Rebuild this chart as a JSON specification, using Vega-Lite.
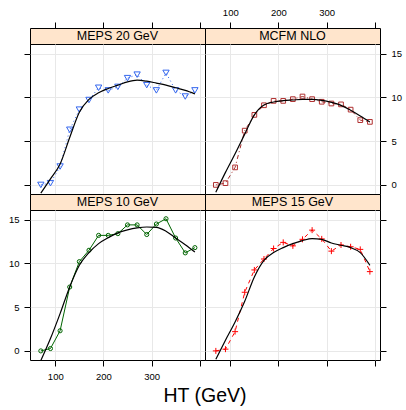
{
  "$schema": "https://vega.github.io/schema/vega-lite/v6.json",
  "padding": {"left": 7, "top": 6, "right": 5, "bottom": 0},
  "background": "white",
  "datasets": {
    "pts": [
      {"panel": "MEPS 20 GeV", "x": 70, "y": 0.0},
      {"panel": "MEPS 20 GeV", "x": 90, "y": 0.2},
      {"panel": "MEPS 20 GeV", "x": 110, "y": 2.1},
      {"panel": "MEPS 20 GeV", "x": 130, "y": 6.3},
      {"panel": "MEPS 20 GeV", "x": 150, "y": 8.6},
      {"panel": "MEPS 20 GeV", "x": 170, "y": 9.7},
      {"panel": "MEPS 20 GeV", "x": 190, "y": 11.1},
      {"panel": "MEPS 20 GeV", "x": 210, "y": 10.8},
      {"panel": "MEPS 20 GeV", "x": 230, "y": 11.2},
      {"panel": "MEPS 20 GeV", "x": 250, "y": 12.2},
      {"panel": "MEPS 20 GeV", "x": 270, "y": 12.6},
      {"panel": "MEPS 20 GeV", "x": 290, "y": 11.4},
      {"panel": "MEPS 20 GeV", "x": 310, "y": 10.8},
      {"panel": "MEPS 20 GeV", "x": 330, "y": 12.8},
      {"panel": "MEPS 20 GeV", "x": 350, "y": 10.8},
      {"panel": "MEPS 20 GeV", "x": 370, "y": 10.1},
      {"panel": "MEPS 20 GeV", "x": 390, "y": 10.8},
      {"panel": "MCFM NLO", "x": 70, "y": 0.0},
      {"panel": "MCFM NLO", "x": 90, "y": 0.2},
      {"panel": "MCFM NLO", "x": 110, "y": 2.0},
      {"panel": "MCFM NLO", "x": 130, "y": 6.2},
      {"panel": "MCFM NLO", "x": 150, "y": 8.0},
      {"panel": "MCFM NLO", "x": 170, "y": 9.1},
      {"panel": "MCFM NLO", "x": 190, "y": 9.6},
      {"panel": "MCFM NLO", "x": 210, "y": 9.6},
      {"panel": "MCFM NLO", "x": 230, "y": 9.8},
      {"panel": "MCFM NLO", "x": 250, "y": 10.1},
      {"panel": "MCFM NLO", "x": 270, "y": 9.8},
      {"panel": "MCFM NLO", "x": 290, "y": 9.5},
      {"panel": "MCFM NLO", "x": 310, "y": 9.3},
      {"panel": "MCFM NLO", "x": 330, "y": 9.2},
      {"panel": "MCFM NLO", "x": 350, "y": 8.6},
      {"panel": "MCFM NLO", "x": 370, "y": 7.4},
      {"panel": "MCFM NLO", "x": 390, "y": 7.2},
      {"panel": "MEPS 10 GeV", "x": 70, "y": 0.0},
      {"panel": "MEPS 10 GeV", "x": 90, "y": 0.27},
      {"panel": "MEPS 10 GeV", "x": 110, "y": 2.3},
      {"panel": "MEPS 10 GeV", "x": 130, "y": 7.3},
      {"panel": "MEPS 10 GeV", "x": 150, "y": 10.2},
      {"panel": "MEPS 10 GeV", "x": 170, "y": 11.5},
      {"panel": "MEPS 10 GeV", "x": 190, "y": 13.2},
      {"panel": "MEPS 10 GeV", "x": 210, "y": 13.2},
      {"panel": "MEPS 10 GeV", "x": 230, "y": 13.4},
      {"panel": "MEPS 10 GeV", "x": 250, "y": 14.4},
      {"panel": "MEPS 10 GeV", "x": 270, "y": 14.4},
      {"panel": "MEPS 10 GeV", "x": 290, "y": 13.3},
      {"panel": "MEPS 10 GeV", "x": 310, "y": 14.5},
      {"panel": "MEPS 10 GeV", "x": 330, "y": 15.1},
      {"panel": "MEPS 10 GeV", "x": 350, "y": 12.9},
      {"panel": "MEPS 10 GeV", "x": 370, "y": 11.2},
      {"panel": "MEPS 10 GeV", "x": 390, "y": 11.8},
      {"panel": "MEPS 15 GeV", "x": 70, "y": 0.0},
      {"panel": "MEPS 15 GeV", "x": 90, "y": 0.2},
      {"panel": "MEPS 15 GeV", "x": 110, "y": 2.2},
      {"panel": "MEPS 15 GeV", "x": 130, "y": 6.7},
      {"panel": "MEPS 15 GeV", "x": 150, "y": 9.25},
      {"panel": "MEPS 15 GeV", "x": 170, "y": 10.5},
      {"panel": "MEPS 15 GeV", "x": 190, "y": 11.7},
      {"panel": "MEPS 15 GeV", "x": 210, "y": 12.4},
      {"panel": "MEPS 15 GeV", "x": 230, "y": 12.0},
      {"panel": "MEPS 15 GeV", "x": 250, "y": 12.75},
      {"panel": "MEPS 15 GeV", "x": 270, "y": 13.8},
      {"panel": "MEPS 15 GeV", "x": 290, "y": 12.8},
      {"panel": "MEPS 15 GeV", "x": 310, "y": 11.4},
      {"panel": "MEPS 15 GeV", "x": 330, "y": 12.1},
      {"panel": "MEPS 15 GeV", "x": 350, "y": 11.9},
      {"panel": "MEPS 15 GeV", "x": 370, "y": 11.6},
      {"panel": "MEPS 15 GeV", "x": 390, "y": 9.06}
    ],
    "fit": [
      {"panel": "MEPS 20 GeV", "x": 70, "y": -0.95},
      {"panel": "MEPS 20 GeV", "x": 90, "y": 0.68},
      {"panel": "MEPS 20 GeV", "x": 110, "y": 2.38},
      {"panel": "MEPS 20 GeV", "x": 130, "y": 5.41},
      {"panel": "MEPS 20 GeV", "x": 150, "y": 8.3},
      {"panel": "MEPS 20 GeV", "x": 170, "y": 9.77},
      {"panel": "MEPS 20 GeV", "x": 190, "y": 10.53},
      {"panel": "MEPS 20 GeV", "x": 210, "y": 11.02},
      {"panel": "MEPS 20 GeV", "x": 230, "y": 11.4},
      {"panel": "MEPS 20 GeV", "x": 250, "y": 11.78},
      {"panel": "MEPS 20 GeV", "x": 270, "y": 11.97},
      {"panel": "MEPS 20 GeV", "x": 290, "y": 11.85},
      {"panel": "MEPS 20 GeV", "x": 310, "y": 11.63},
      {"panel": "MEPS 20 GeV", "x": 330, "y": 11.4},
      {"panel": "MEPS 20 GeV", "x": 350, "y": 11.1},
      {"panel": "MEPS 20 GeV", "x": 370, "y": 10.8},
      {"panel": "MEPS 20 GeV", "x": 390, "y": 10.4},
      {"panel": "MCFM NLO", "x": 70, "y": -0.84},
      {"panel": "MCFM NLO", "x": 90, "y": 1.43},
      {"panel": "MCFM NLO", "x": 110, "y": 3.56},
      {"panel": "MCFM NLO", "x": 130, "y": 5.8},
      {"panel": "MCFM NLO", "x": 150, "y": 8.0},
      {"panel": "MCFM NLO", "x": 170, "y": 9.13},
      {"panel": "MCFM NLO", "x": 190, "y": 9.47},
      {"panel": "MCFM NLO", "x": 210, "y": 9.62},
      {"panel": "MCFM NLO", "x": 230, "y": 9.7},
      {"panel": "MCFM NLO", "x": 250, "y": 9.77},
      {"panel": "MCFM NLO", "x": 270, "y": 9.77},
      {"panel": "MCFM NLO", "x": 290, "y": 9.66},
      {"panel": "MCFM NLO", "x": 310, "y": 9.43},
      {"panel": "MCFM NLO", "x": 330, "y": 9.09},
      {"panel": "MCFM NLO", "x": 350, "y": 8.52},
      {"panel": "MCFM NLO", "x": 370, "y": 7.88},
      {"panel": "MCFM NLO", "x": 390, "y": 7.19},
      {"panel": "MEPS 10 GeV", "x": 70, "y": -1.1},
      {"panel": "MEPS 10 GeV", "x": 90, "y": 1.41},
      {"panel": "MEPS 10 GeV", "x": 110, "y": 4.26},
      {"panel": "MEPS 10 GeV", "x": 130, "y": 7.31},
      {"panel": "MEPS 10 GeV", "x": 150, "y": 9.78},
      {"panel": "MEPS 10 GeV", "x": 170, "y": 11.23},
      {"panel": "MEPS 10 GeV", "x": 190, "y": 12.26},
      {"panel": "MEPS 10 GeV", "x": 210, "y": 12.94},
      {"panel": "MEPS 10 GeV", "x": 230, "y": 13.48},
      {"panel": "MEPS 10 GeV", "x": 250, "y": 13.82},
      {"panel": "MEPS 10 GeV", "x": 270, "y": 14.05},
      {"panel": "MEPS 10 GeV", "x": 290, "y": 14.16},
      {"panel": "MEPS 10 GeV", "x": 310, "y": 14.12},
      {"panel": "MEPS 10 GeV", "x": 330, "y": 13.67},
      {"panel": "MEPS 10 GeV", "x": 350, "y": 12.9},
      {"panel": "MEPS 10 GeV", "x": 370, "y": 12.14},
      {"panel": "MEPS 10 GeV", "x": 390, "y": 11.3},
      {"panel": "MEPS 15 GeV", "x": 70, "y": -0.95},
      {"panel": "MEPS 15 GeV", "x": 90, "y": 1.22},
      {"panel": "MEPS 15 GeV", "x": 110, "y": 3.31},
      {"panel": "MEPS 15 GeV", "x": 130, "y": 5.67},
      {"panel": "MEPS 15 GeV", "x": 150, "y": 8.45},
      {"panel": "MEPS 15 GeV", "x": 170, "y": 10.35},
      {"panel": "MEPS 15 GeV", "x": 190, "y": 11.23},
      {"panel": "MEPS 15 GeV", "x": 210, "y": 11.8},
      {"panel": "MEPS 15 GeV", "x": 230, "y": 12.26},
      {"panel": "MEPS 15 GeV", "x": 250, "y": 12.6},
      {"panel": "MEPS 15 GeV", "x": 270, "y": 12.83},
      {"panel": "MEPS 15 GeV", "x": 290, "y": 12.75},
      {"panel": "MEPS 15 GeV", "x": 310, "y": 12.33},
      {"panel": "MEPS 15 GeV", "x": 330, "y": 12.07},
      {"panel": "MEPS 15 GeV", "x": 350, "y": 11.8},
      {"panel": "MEPS 15 GeV", "x": 370, "y": 11.23},
      {"panel": "MEPS 15 GeV", "x": 390, "y": 9.78}
    ]
  },
  "title": {"text": "HT (GeV)", "orient": "bottom", "anchor": "middle", "fontSize": 19.5, "font": "Liberation Sans", "fontWeight": "normal", "color": "black", "offset": 6},
  "config": {
    "axis": {"tickColor": "black", "labelColor": "black", "labelFontSize": 9.5, "labelFont": "Liberation Sans", "tickSize": 6, "labelPadding": 5, "gridColor": "#e8e8e8", "gridWidth": 1, "domain": false, "tickWidth": 1},
    "view": {"stroke": "black", "strokeWidth": 1}
  },
  "columns": 2,
  "spacing": 0,
  "bounds": "flush",
  "concat": [
    {
      "width": 175, "height": 16,
      "view": {"fill": "#ffe5cc", "stroke": "black"},
      "layer": [
        {"data": {"name": "pts"}, "transform": [{"filter": "datum.panel === 'MEPS 20 GeV'"}], "mark": {"type": "point", "opacity": 0},
         "encoding": {"x": {"field": "x", "type": "quantitative", "title": null, "scale": {"domain": [47.5, 411], "nice": false, "zero": false}, "axis": {"orient": "top", "values": [100, 200, 300, 400], "labels": false, "grid": false, "ticks": true}}}},
        {"data": {"values": [{"name": "MEPS 20 GeV"}]}, "mark": {"type": "text", "fontSize": 12.5, "font": "Liberation Sans", "color": "black", "baseline": "middle", "align": "center"}, "encoding": {"text": {"field": "name"}}}
      ]
    },
    {
      "width": 175, "height": 16,
      "view": {"fill": "#ffe5cc", "stroke": "black"},
      "layer": [
        {"data": {"name": "pts"}, "transform": [{"filter": "datum.panel === 'MCFM NLO'"}], "mark": {"type": "point", "opacity": 0},
         "encoding": {"x": {"field": "x", "type": "quantitative", "title": null, "scale": {"domain": [47.5, 411], "nice": false, "zero": false}, "axis": {"orient": "top", "values": [100, 200, 300, 400], "labelExpr": "datum.value == 400 ? '' : datum.label", "grid": false, "ticks": true}}}},
        {"data": {"values": [{"name": "MCFM NLO"}]}, "mark": {"type": "text", "fontSize": 12.5, "font": "Liberation Sans", "color": "black", "baseline": "middle", "align": "center"}, "encoding": {"text": {"field": "name"}}}
      ]
    },
    {
      "width": 175, "height": 150,
      "view": {"stroke": "black"},
      "encoding": {
        "x": {"field": "x", "type": "quantitative", "title": null, "scale": {"domain": [47.5, 411], "nice": false, "zero": false}, "axis": {"orient": "bottom", "values": [100, 200, 300, 400], "labels": false, "ticks": false, "grid": true}},
        "y": {"field": "y", "type": "quantitative", "title": null, "scale": {"domain": [-1.04, 16.1], "nice": false, "zero": false}, "axis": {"orient": "left", "values": [0, 5, 10, 15], "labels": false, "ticks": true, "grid": true}}
      },
      "layer": [
        {"data": {"name": "pts"}, "transform": [{"filter": "datum.panel === 'MEPS 20 GeV'"}], "mark": {"type": "line", "color": "#3366ee", "strokeDash": [1, 3], "strokeWidth": 1}},
        {"data": {"name": "pts"}, "transform": [{"filter": "datum.panel === 'MEPS 20 GeV'"}], "mark": {"type": "point", "shape": "triangle-down", "color": "#3366ee", "filled": false, "size": 40, "strokeWidth": 1, "opacity": 1}},
        {"data": {"name": "fit"}, "transform": [{"filter": "datum.panel === 'MEPS 20 GeV'"}], "mark": {"type": "line", "color": "black", "strokeWidth": 1.2, "clip": true, "interpolate": "monotone"}}
      ]
    },
    {
      "width": 175, "height": 150,
      "view": {"stroke": "black"},
      "encoding": {
        "x": {"field": "x", "type": "quantitative", "title": null, "scale": {"domain": [47.5, 411], "nice": false, "zero": false}, "axis": {"orient": "bottom", "values": [100, 200, 300, 400], "labels": false, "ticks": false, "grid": true}},
        "y": {"field": "y", "type": "quantitative", "title": null, "scale": {"domain": [-1.04, 16.1], "nice": false, "zero": false}, "axis": {"orient": "right", "values": [0, 5, 10, 15], "labels": true, "ticks": true, "grid": true}}
      },
      "layer": [
        {"data": {"name": "pts"}, "transform": [{"filter": "datum.panel === 'MCFM NLO'"}], "mark": {"type": "line", "color": "#a52a2a", "strokeDash": [1, 3, 4, 3], "strokeWidth": 1}},
        {"data": {"name": "pts"}, "transform": [{"filter": "datum.panel === 'MCFM NLO'"}], "mark": {"type": "point", "shape": "square", "color": "#b03030", "filled": false, "size": 22, "strokeWidth": 1, "opacity": 1}},
        {"data": {"name": "fit"}, "transform": [{"filter": "datum.panel === 'MCFM NLO'"}], "mark": {"type": "line", "color": "black", "strokeWidth": 1.2, "clip": true, "interpolate": "monotone"}}
      ]
    },
    {
      "width": 175, "height": 16,
      "view": {"fill": "#ffe5cc", "stroke": "black"},
      "data": {"values": [{"name": "MEPS 10 GeV"}]},
      "mark": {"type": "text", "fontSize": 12.5, "font": "Liberation Sans", "color": "black", "baseline": "middle", "align": "center"},
      "encoding": {"text": {"field": "name"}}
    },
    {
      "width": 175, "height": 16,
      "view": {"fill": "#ffe5cc", "stroke": "black"},
      "data": {"values": [{"name": "MEPS 15 GeV"}]},
      "mark": {"type": "text", "fontSize": 12.5, "font": "Liberation Sans", "color": "black", "baseline": "middle", "align": "center"},
      "encoding": {"text": {"field": "name"}}
    },
    {
      "width": 175, "height": 150,
      "view": {"stroke": "black"},
      "encoding": {
        "x": {"field": "x", "type": "quantitative", "title": null, "scale": {"domain": [47.5, 411], "nice": false, "zero": false}, "axis": {"orient": "bottom", "values": [100, 200, 300, 400], "labelExpr": "datum.value == 400 ? '' : datum.label", "ticks": true, "grid": true}},
        "y": {"field": "y", "type": "quantitative", "title": null, "scale": {"domain": [-1.04, 16.1], "nice": false, "zero": false}, "axis": {"orient": "left", "values": [0, 5, 10, 15], "labels": true, "ticks": true, "grid": true}}
      },
      "layer": [
        {"data": {"name": "pts"}, "transform": [{"filter": "datum.panel === 'MEPS 10 GeV'"}], "mark": {"type": "line", "color": "#006400", "strokeWidth": 1}},
        {"data": {"name": "pts"}, "transform": [{"filter": "datum.panel === 'MEPS 10 GeV'"}], "mark": {"type": "point", "shape": "circle", "color": "#006400", "filled": false, "size": 17, "strokeWidth": 1, "opacity": 1}},
        {"data": {"name": "fit"}, "transform": [{"filter": "datum.panel === 'MEPS 10 GeV'"}], "mark": {"type": "line", "color": "black", "strokeWidth": 1.2, "clip": true, "interpolate": "monotone"}}
      ]
    },
    {
      "width": 175, "height": 150,
      "view": {"stroke": "black"},
      "encoding": {
        "x": {"field": "x", "type": "quantitative", "title": null, "scale": {"domain": [47.5, 411], "nice": false, "zero": false}, "axis": {"orient": "bottom", "values": [100, 200, 300, 400], "labels": false, "ticks": true, "grid": true}},
        "y": {"field": "y", "type": "quantitative", "title": null, "scale": {"domain": [-1.04, 16.1], "nice": false, "zero": false}, "axis": {"orient": "right", "values": [0, 5, 10, 15], "labels": false, "ticks": true, "grid": true}}
      },
      "layer": [
        {"data": {"name": "pts"}, "transform": [{"filter": "datum.panel === 'MEPS 15 GeV'"}], "mark": {"type": "line", "color": "#ff0000", "strokeDash": [4, 4], "strokeWidth": 1}},
        {"data": {"name": "pts"}, "transform": [{"filter": "datum.panel === 'MEPS 15 GeV'"}], "mark": {"type": "point", "shape": "M-1,0L1,0M0,-1L0,1", "color": "#ff0000", "filled": false, "size": 36, "strokeWidth": 1, "opacity": 1}},
        {"data": {"name": "fit"}, "transform": [{"filter": "datum.panel === 'MEPS 15 GeV'"}], "mark": {"type": "line", "color": "black", "strokeWidth": 1.2, "clip": true, "interpolate": "monotone"}}
      ]
    }
  ]
}
